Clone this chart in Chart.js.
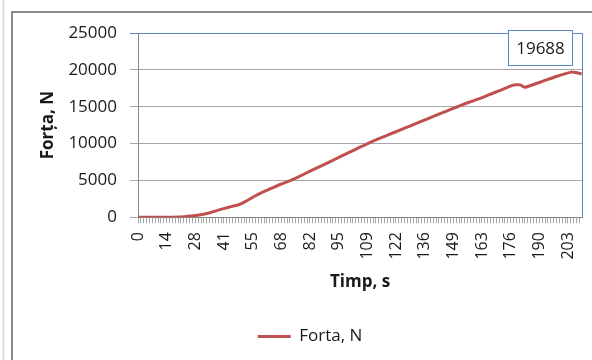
<!DOCTYPE html>
<html>
<head>
<meta charset="utf-8">
<script src="https://cdn.jsdelivr.net/npm/chart.js@4.4.1/dist/chart.umd.min.js"></script>
<style>
  html, body { margin: 0; padding: 0; background: #fff; }
  #wrap { width: 592px; height: 360px; position: relative; }
</style>
</head>
<body>
<div id="wrap"><canvas id="chart"></canvas></div>
<script>
// time (s) and force (N)
const timeS = [0, 5, 10, 15, 20, 25, 29, 34, 38, 43, 48, 51, 55, 59, 63, 67, 72, 76, 81, 86,
    91, 96, 100, 104, 109, 114, 119, 124, 129, 134, 139, 143, 148, 152, 157, 163, 168, 173,
    177, 179, 181, 183, 186, 190, 194, 198, 202, 205, 207, 210];
const fortaN = [0, 0, 0, 0, 20, 150, 300, 600, 950, 1350, 1720, 2150, 2800, 3400, 3900, 4400,
    4950, 5480, 6170, 6860, 7550, 8240, 8800, 9350, 10030, 10650, 11230, 11820, 12400, 12990,
    13580, 14050, 14620, 15080, 15630, 16230, 16820, 17390, 17850, 17960, 17960, 17650, 17880,
    18280, 18700, 19100, 19450, 19688, 19640, 19470];
const xTickLabels = ['0', '14', '28', '41', '55', '68', '82', '95', '109', '122', '136', '149',
    '163', '176', '190', '203'];
const yTickValues = [0, 5000, 10000, 15000, 20000, 25000];
const peakValue = 19688;

const labelStep = 13.57;     // seconds between labelled ticks
const ticksPerLabel = 10;    // minor tick marks per label

const gridGrey = '#a6a6a6';
const axisGrey = '#868686';
const frameBlue = '#5b86c5';
const lineRed = '#c0504d';

Chart.defaults.font.family = "'Open Sans', sans-serif";
Chart.defaults.color = '#1a1a1a';

var points = timeS.map(function(t, i) { return {x: t, y: fortaN[i]}; });

var frame = {
    id: 'frame',
    beforeDraw: function(chart) {
        var c = chart.ctx;
        c.save();
        c.strokeStyle = '#dcdcdc';
        c.lineWidth = 2;
        c.beginPath(); c.moveTo(3.5, 0); c.lineTo(3.5, 360); c.stroke();
        c.strokeStyle = '#8a8a8a';
        c.beginPath(); c.moveTo(12, 360); c.lineTo(12, 12); c.lineTo(592, 12); c.stroke();
        c.restore();
    },
    afterDraw: function(chart) {
        var c = chart.ctx, a = chart.chartArea;
        c.save();
        c.strokeStyle = frameBlue;
        c.lineWidth = 1;
        c.beginPath();
        c.moveTo(Math.round(a.right) + 0.5, a.top);
        c.lineTo(Math.round(a.right) + 0.5, a.bottom);
        c.stroke();
        // data label on the peak
        var meta = chart.getDatasetMeta(0);
        var idx = fortaN.indexOf(peakValue);
        var p = meta.data[idx];
        var w = 64, h = 35;
        var bx = Math.round(p.x + 1 - w) + 0.5, by = Math.round(p.y - 7 - h) + 0.5;
        c.fillStyle = '#fff';
        c.fillRect(bx, by, w, h);
        c.strokeRect(bx, by, w, h);
        c.fillStyle = '#1a1a1a';
        c.font = "17px 'Open Sans'";
        c.textAlign = 'center';
        c.textBaseline = 'middle';
        c.fillText(String(peakValue), bx + w / 2, by + h / 2 + 1);
        c.restore();
    }
};

var ctx = document.getElementById('chart').getContext('2d');
var chart = new Chart(ctx, {
    type: 'line',
    data: {
        datasets: [{
            label: 'Forta, N',
            data: points,
            borderColor: lineRed,
            backgroundColor: lineRed,
            borderWidth: 3,
            pointRadius: 0,
            pointStyle: 'line',
            tension: 0.2
        }]
    },
    options: {
        responsive: true,
        maintainAspectRatio: false,
        animation: false,
        layout: { padding: { left: 38, top: 33, right: 10, bottom: 5 } },
        plugins: {
            legend: {
                position: 'bottom',
                labels: {
                    usePointStyle: true,
                    pointStyleWidth: 33,
                    padding: 10,
                    font: { size: 17 },
                    color: '#1a1a1a'
                }
            },
            tooltip: { enabled: false }
        },
        scales: {
            x: {
                type: 'linear',
                min: 0,
                max: 210.2,
                afterBuildTicks: function(axis) {
                    var n = (xTickLabels.length) * ticksPerLabel + 5;
                    var ticks = [];
                    for (var i = 0; i <= n; i++) {
                        var v = i * labelStep / ticksPerLabel;
                        if (v <= axis.max) ticks.push({value: v});
                    }
                    axis.ticks = ticks;
                },
                afterFit: function(scale) {
                    scale.paddingLeft = 0;
                    scale.paddingRight = 0;
                },
                ticks: {
                    autoSkip: false,
                    minRotation: 90,
                    maxRotation: 90,
                    padding: 9,
                    font: { size: 16 },
                    callback: function(value, index) {
                        return index % ticksPerLabel === 0 ? xTickLabels[index / ticksPerLabel] : '';
                    }
                },
                grid: { drawOnChartArea: false, tickLength: 6, color: gridGrey },
                border: { color: axisGrey, width: 1 },
                title: {
                    display: true,
                    text: 'Timp, s',
                    font: { size: 17, weight: 'bold' },
                    padding: { top: 3, bottom: 26 }
                }
            },
            y: {
                min: 0,
                max: 25000,
                afterBuildTicks: function(axis) {
                    axis.ticks = yTickValues.map(function(v) { return {value: v}; });
                },
                afterFit: function(scale) {
                    scale.width = 100;
                },
                ticks: {
                    padding: 13,
                    font: { size: 17 },
                    callback: function(value) { return String(value); }
                },
                grid: {
                    tickLength: 8,
                    color: function(c) {
                        return c.tick && c.tick.value === 25000 ? frameBlue : gridGrey;
                    }
                },
                border: { color: axisGrey, width: 1 },
                title: {
                    display: true,
                    text: 'Forța, N',
                    font: { size: 17, weight: 'bold' },
                    padding: { top: 0, bottom: 10 }
                }
            }
        }
    },
    plugins: [frame]
});
</script>
</body>
</html>
